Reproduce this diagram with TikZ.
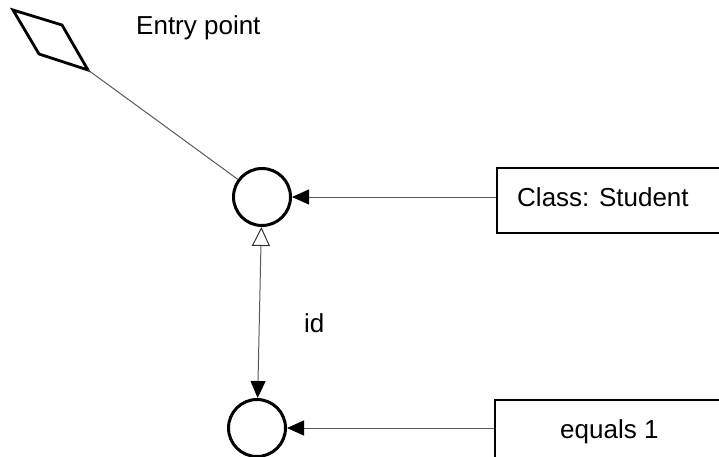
\documentclass[tikz,border=0pt]{standalone}
\usepackage{fontspec}
\setmainfont{Liberation Sans}
\usetikzlibrary{arrows.meta,shapes.geometric}
\begin{document}
\begin{tikzpicture}[x=1pt,y=-1pt,
  state/.style={circle,draw=black,line width=3pt,minimum size=57pt,inner sep=0pt},
  labelbox/.style={draw=black,line width=2pt,anchor=north west,inner sep=0pt},
  link/.style={draw=black!65,line width=1pt},
  lbl/.style={font=\fontsize{26}{30}\selectfont,inner sep=0pt,anchor=base west}]
\useasboundingbox (0,0) rectangle (719,457);
% entry marker (rotated rhombus)
\coordinate (dA) at (13,10);
\coordinate (dB) at (62,25);
\coordinate (dC) at (88,70);
\coordinate (dD) at (39,54);
\draw[line width=2.8pt,line join=miter] (dA) -- (dB) -- (dC) -- (dD) -- cycle;
\node[lbl] (entry) at (136,35) {Entry point};
% states
\node[state] (s1) at (262,197) {};
\node[state] (s2) at (257,428) {};
% labels on the right
\node[labelbox,minimum width=240pt,minimum height=65pt] (cls) at (496,167) {};
\node[lbl] (clstext) at (517,206) {Class: Student};
\node[labelbox,minimum width=240pt,minimum height=80pt] (eq) at (494,399) {};
\node[lbl] (eqtext) at (560,438) {equals 1};
\node[lbl] (id) at (304,332) {id};
% connectors
\draw[link] (dC) -- (s1);
\draw[link,-{Triangle[length=17pt,width=15pt,color=black]}] (cls.west |- s1) -- (s1);
\draw[link,-{Triangle[length=17pt,width=15pt,color=black]}] (eq.west |- s2) -- (s2);
\draw[link,{Triangle[open,length=19pt,width=18pt,color=black!80]}-{Triangle[length=17pt,width=15pt,color=black]}] (s1) -- (s2);
\end{tikzpicture}
\end{document}
